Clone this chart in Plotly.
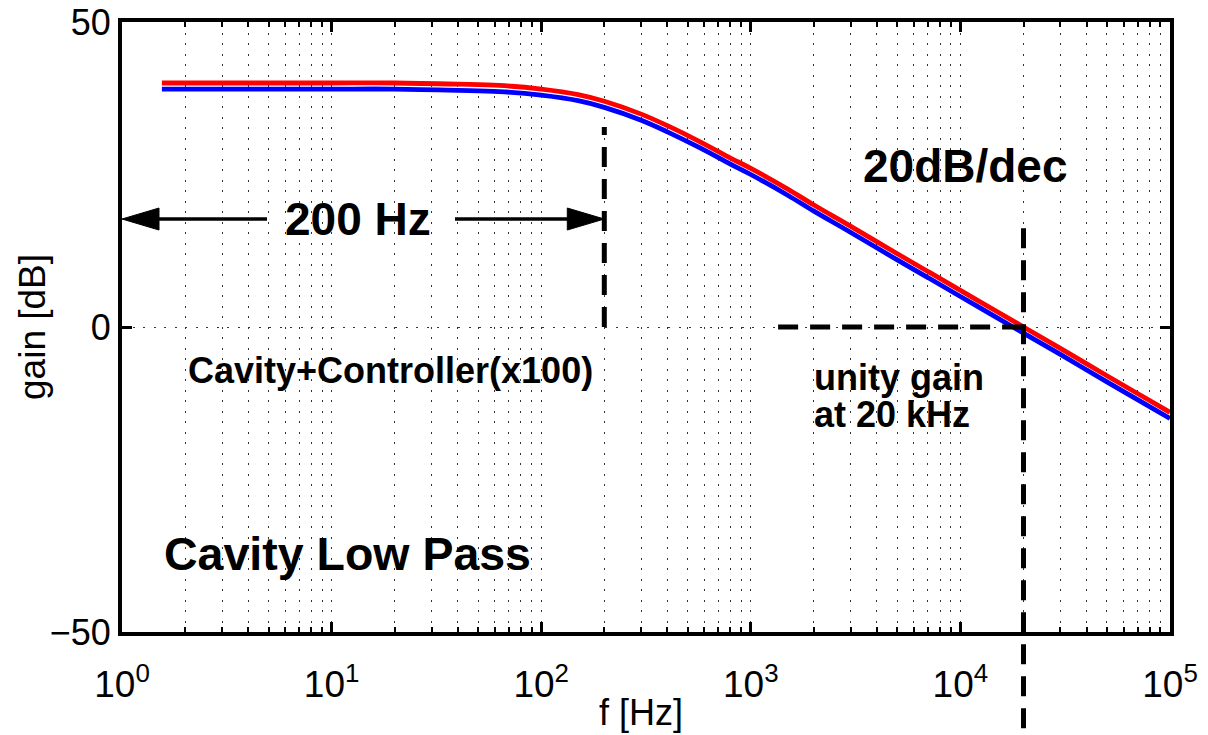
import math
import plotly.graph_objects as go

# ---------------- data ----------------
freq_hz = [1.55, 3, 5, 10, 20, 40, 63, 100, 150, 200, 300, 400, 570, 800,
           1000, 1500, 2000, 3000, 5000, 7000, 10000, 15000, 20000, 30000,
           50000, 70000, 100000]
gain_red_db = [40.0, 40.0, 40.0, 40.0, 40.0, 39.8, 39.6, 39.0, 38.1, 37.0,
               34.9, 33.0, 30.4, 27.7, 26.0, 22.6, 20.0, 16.5, 12.0, 9.1,
               6.0, 2.5, 0.0, -3.5, -8.0, -10.9, -14.0]
gain_blue_db = [39.0, 39.0, 39.0, 39.0, 39.0, 38.8, 38.6, 38.0, 37.1, 36.0,
                33.9, 32.0, 29.4, 26.7, 25.0, 21.6, 19.0, 15.5, 11.0, 8.1,
                5.0, 1.5, -1.0, -4.5, -9.0, -11.9, -15.0]

x_tick_vals = [1, 10, 100, 1000, 10000, 100000]
x_tick_text = ["10<sup>0</sup>", "10<sup>1</sup>", "10<sup>2</sup>",
               "10<sup>3</sup>", "10<sup>4</sup>", "10<sup>5</sup>"]
y_tick_vals = [-50, 0, 50]
y_tick_text = ["\u221250", "0", "50"]

corner_hz = 200          # cavity bandwidth marker
corner_top_db = 32.8
unity_hz = 20000         # unity-gain marker
unity_top_db = 16.2
unity_start_hz = 1350
arrow_db = 17.7

# ---------------- geometry ----------------
# the page body has an 8px margin, so the figure is shifted by (8, 8)
PAGE_OFF = 8
W, H = 1208 - PAGE_OFF, 735 - PAGE_OFF
PLOT_L, PLOT_R, PLOT_T, PLOT_B = 122, 1170, 22, 632   # page pixels
ML = PLOT_L - PAGE_OFF
MT = PLOT_T - PAGE_OFF
MR = W - ML - (PLOT_R - PLOT_L)
MB = H - MT - (PLOT_B - PLOT_T)
PW, PH = PLOT_R - PLOT_L, PLOT_B - PLOT_T
X_RANGE = [0, 5]
Y_RANGE = [-50, 50]
PX_PER_DEC = PW / (X_RANGE[1] - X_RANGE[0])
PX_PER_DB = PH / (Y_RANGE[1] - Y_RANGE[0])

FONT = "Liberation Sans, Arial, Helvetica, sans-serif"
DASH = "20px,12px"
GRID_DASH = "2px,8.5px"
GRID_COLOR = "#333333"

fig = go.Figure()

# transfer-function curves
fig.add_trace(go.Scatter(x=freq_hz, y=gain_blue_db, mode="lines",
                         line=dict(color="#0000ff", width=4.8, shape="spline"),
                         showlegend=False))
fig.add_trace(go.Scatter(x=freq_hz, y=gain_red_db, mode="lines",
                         line=dict(color="#ff0000", width=4.8, shape="spline"),
                         showlegend=False))

# dashed marker lines
fig.add_trace(go.Scatter(x=[corner_hz, corner_hz], y=[0, corner_top_db], mode="lines",
                         line=dict(color="black", width=5, dash=DASH), showlegend=False))
fig.add_trace(go.Scatter(x=[unity_start_hz, unity_hz], y=[0, 0], mode="lines",
                         line=dict(color="black", width=5, dash=DASH), showlegend=False))
fig.add_shape(type="line", xref="x", yref="paper",
              x0=unity_hz, x1=unity_hz,
              y0=(unity_top_db - Y_RANGE[0]) / (Y_RANGE[1] - Y_RANGE[0]), y1=-0.2,
              line=dict(color="black", width=5, dash=DASH), layer="above")

# double arrow "200 Hz"
lg_left = X_RANGE[0]
lg_right = math.log10(corner_hz)
head_len = 37 / PX_PER_DEC
head_half = 11 / PX_PER_DB
text_gap_left = 10 ** (lg_left + (267 - PLOT_L) / PX_PER_DEC)
text_gap_right = 10 ** (lg_left + (455 - PLOT_L) / PX_PER_DEC)
fig.add_trace(go.Scatter(x=[10 ** (lg_left + head_len * 0.9), text_gap_left],
                         y=[arrow_db, arrow_db], mode="lines",
                         line=dict(color="black", width=3.5), showlegend=False))
fig.add_trace(go.Scatter(x=[text_gap_right, 10 ** (lg_right - head_len * 0.9)],
                         y=[arrow_db, arrow_db], mode="lines",
                         line=dict(color="black", width=3.5), showlegend=False))
fig.add_trace(go.Scatter(x=[10 ** lg_left, 10 ** (lg_left + head_len), 10 ** (lg_left + head_len), 10 ** lg_left],
                         y=[arrow_db, arrow_db + head_half, arrow_db - head_half, arrow_db],
                         mode="lines", fill="toself", fillcolor="black",
                         line=dict(color="black", width=1), showlegend=False))
fig.add_trace(go.Scatter(x=[10 ** lg_right, 10 ** (lg_right - head_len), 10 ** (lg_right - head_len), 10 ** lg_right],
                         y=[arrow_db, arrow_db + head_half, arrow_db - head_half, arrow_db],
                         mode="lines", fill="toself", fillcolor="black",
                         line=dict(color="black", width=1), showlegend=False))


def bold(text, x, y, size, xanchor="center"):
    fig.add_annotation(text=text, x=x, y=y, xref="x", yref="y", showarrow=False,
                       xanchor=xanchor, yanchor="middle",
                       font=dict(family=FONT, size=size, color="black", weight="bold"))


bold("200 Hz", 1.126, 17.7, 46)
bold("20dB/dec", 4.022, 26.4, 46)
bold("Cavity+Controller(x100)", 1.279, -7.2, 36)
bold("unity gain", 3.292, -8.3, 36, xanchor="left")
bold("at 20 kHz", 3.292, -14.3, 36, xanchor="left")
bold("Cavity Low Pass", 0.191, -37.2, 46.5, xanchor="left")

# axis titles as annotations
fig.add_annotation(text="f [Hz]", xref="paper", yref="paper",
                   x=(641 - PLOT_L) / PW, y=(PLOT_B - 713) / PH,
                   showarrow=False, xanchor="center", yanchor="middle",
                   font=dict(family=FONT, size=36, color="black"))
fig.add_annotation(text="gain [dB]", xref="paper", yref="paper",
                   x=(32 - PLOT_L) / PW, y=0.5, textangle=-90,
                   showarrow=False, xanchor="center", yanchor="middle",
                   font=dict(family=FONT, size=37, color="black"))

minor_vals = [m * 10 ** k for k in range(5) for m in range(2, 10)]

fig.update_layout(
    width=W, height=H,
    margin=dict(l=ML, r=MR, t=MT, b=MB, pad=0, autoexpand=False),
    paper_bgcolor="white", plot_bgcolor="white",
    font=dict(family=FONT, size=36, color="black"),
    showlegend=False,
    xaxis=dict(type="log", range=X_RANGE, tickmode="array", automargin=False,
               tickvals=x_tick_vals, ticktext=x_tick_text,
               ticklabeloverflow="allow",
               ticks="inside", ticklen=10, tickwidth=3, tickcolor="black",
               showline=True, linewidth=4, linecolor="black", mirror="ticks",
               showgrid=True, gridcolor=GRID_COLOR, gridwidth=1.3, griddash=GRID_DASH,
               zeroline=False, ticklabelstandoff=17,
               tickfont=dict(family=FONT, size=37, color="black"),
               minor=dict(tickmode="array", tickvals=minor_vals, ticks="inside",
                          ticklen=5, tickwidth=2, tickcolor="black",
                          showgrid=True, gridcolor=GRID_COLOR, gridwidth=1.3,
                          griddash=GRID_DASH)),
    yaxis=dict(range=Y_RANGE, tickmode="array", automargin=False,
               tickvals=y_tick_vals, ticktext=y_tick_text,
               ticklabeloverflow="allow",
               ticks="inside", ticklen=10, tickwidth=3, tickcolor="black",
               showline=True, linewidth=4, linecolor="black", mirror="ticks",
               showgrid=True, gridcolor=GRID_COLOR, gridwidth=1.3, griddash=GRID_DASH,
               zeroline=False,
               tickfont=dict(family=FONT, size=36, color="black")),
)

fig.write_html("out.html")
